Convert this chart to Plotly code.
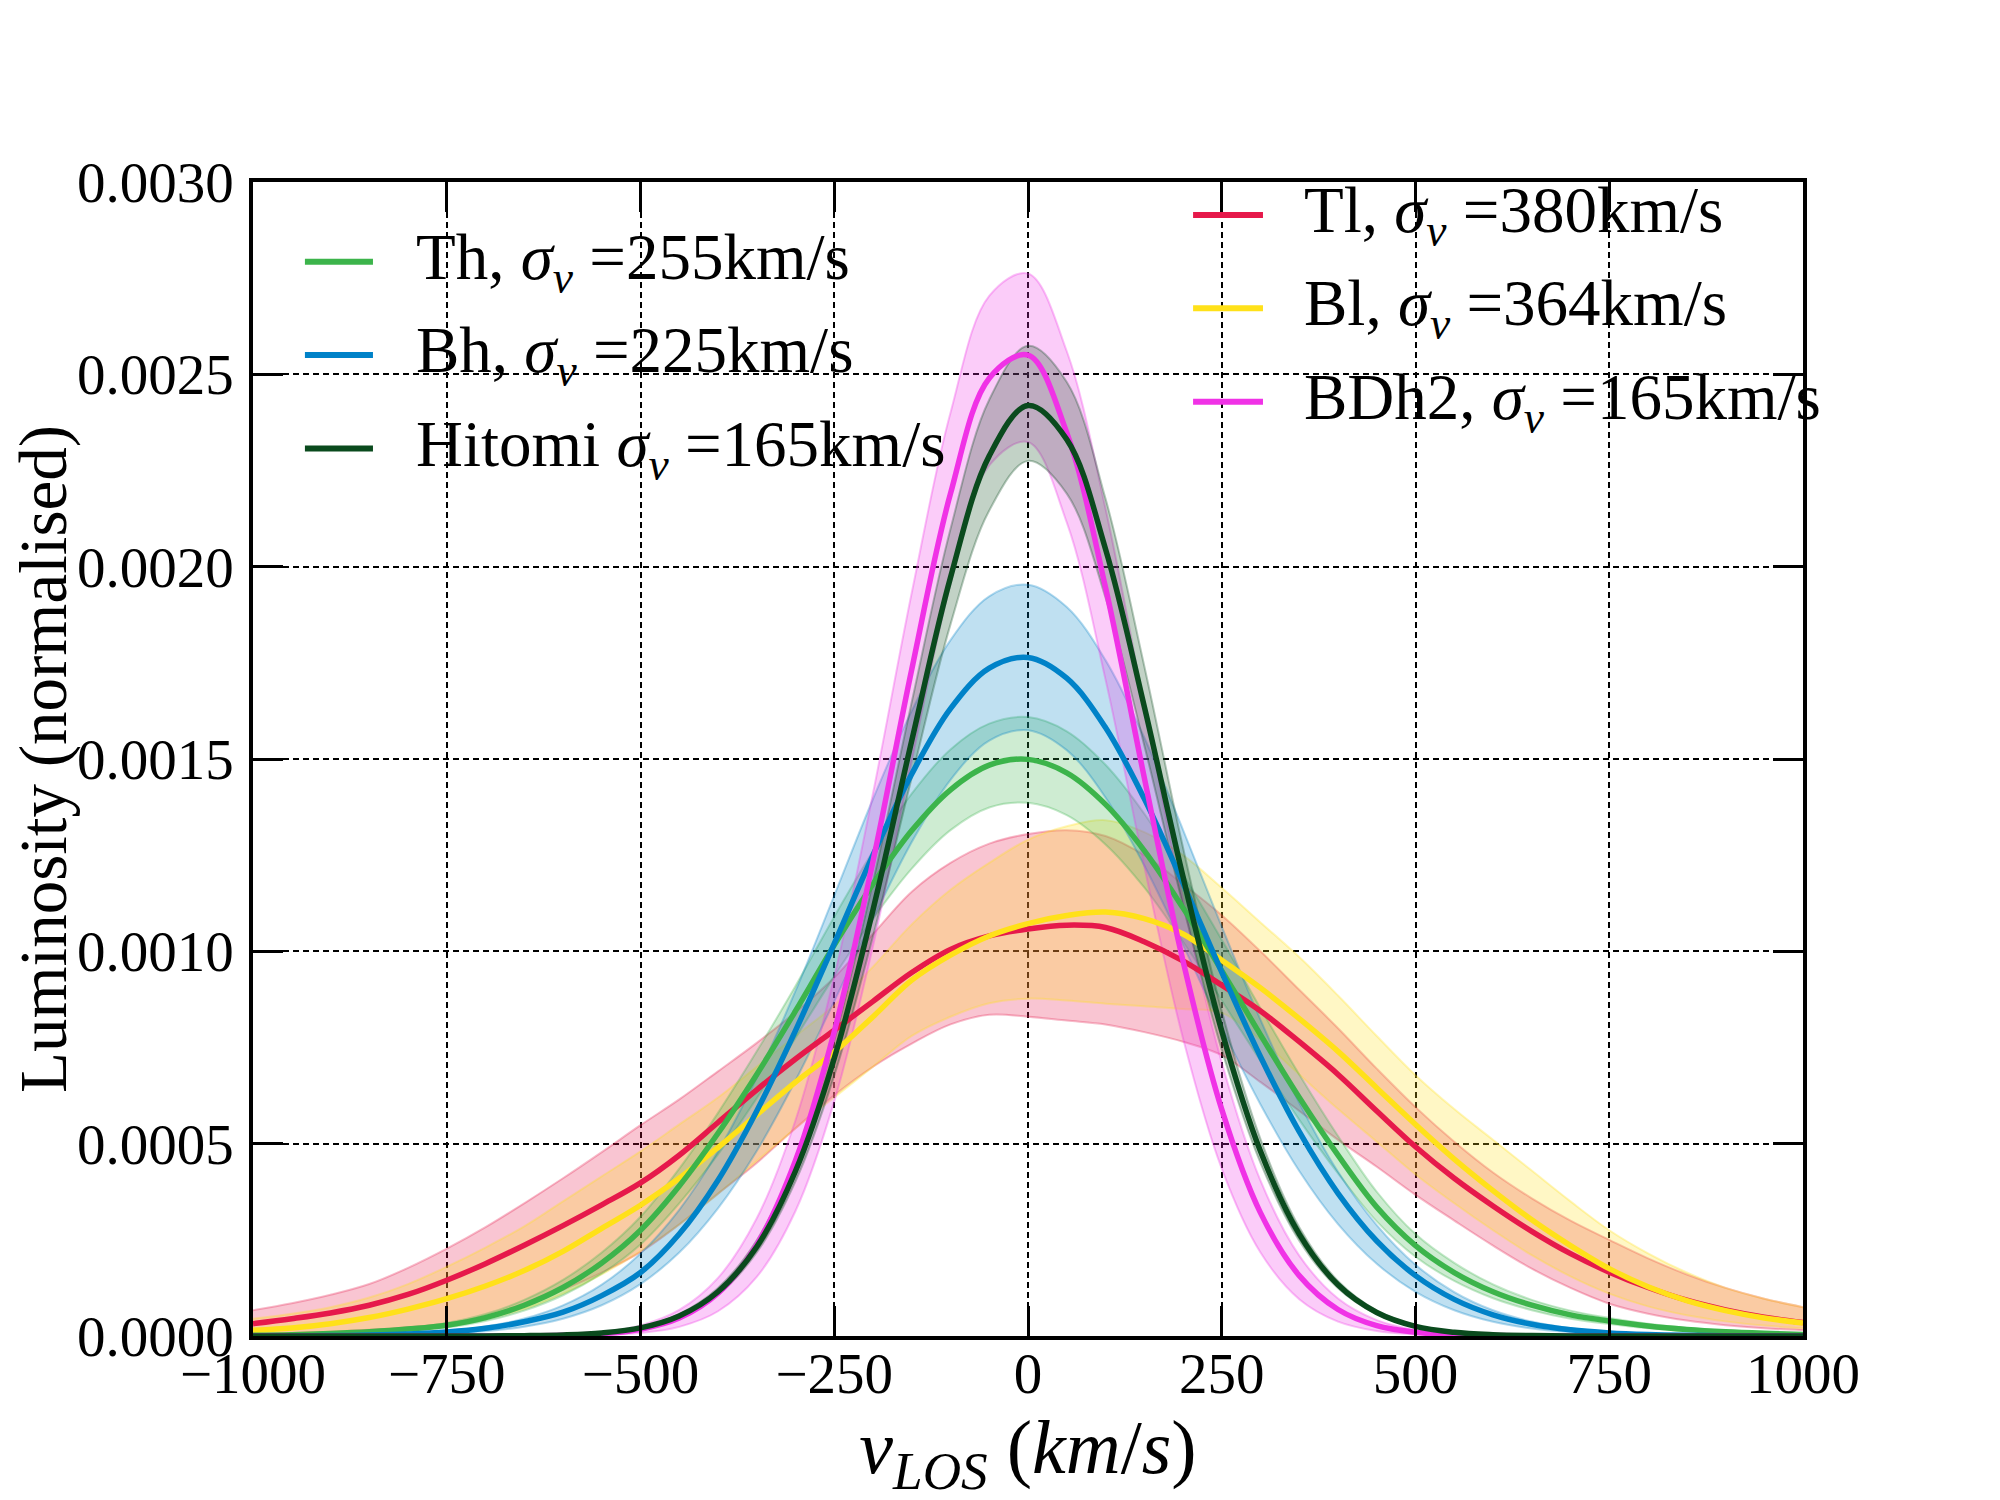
import plotly.graph_objects as go

# ---------------- data (luminosity values in units of 1e-3) ----------------
VELOCITY = [-1000, -950, -900, -850, -800, -750, -700, -650, -600, -550, -500,
            -450, -400, -350, -300, -250, -200, -150, -100, -50, 0,
            50, 100, 150, 200, 250, 300, 350, 400, 450, 500,
            550, 600, 650, 700, 750, 800, 850, 900, 950, 1000]

TH_MEAN = [0.002, 0.0035, 0.0065, 0.011, 0.018, 0.028, 0.048, 0.080, 0.126, 0.19, 0.275,
           0.39, 0.527, 0.68, 0.845, 1.016, 1.175, 1.314, 1.42, 1.484, 1.499,
           1.464, 1.382, 1.262, 1.113, 0.95, 0.783, 0.62, 0.47, 0.335, 0.235,
           0.165, 0.115, 0.08, 0.055, 0.039, 0.026, 0.017, 0.011, 0.007, 0.004]
TH_HIGH = [0.003, 0.0045, 0.008, 0.0135, 0.022, 0.034, 0.057, 0.094, 0.146, 0.217, 0.31,
           0.435, 0.58, 0.74, 0.91, 1.09, 1.26, 1.41, 1.525, 1.592, 1.609,
           1.572, 1.485, 1.358, 1.2, 1.03, 0.852, 0.68, 0.52, 0.375, 0.265,
           0.19, 0.134, 0.094, 0.066, 0.047, 0.032, 0.021, 0.014, 0.009, 0.005]
TH_LOW = [0.0013, 0.0025, 0.005, 0.0085, 0.014, 0.022, 0.039, 0.066, 0.106, 0.162, 0.238,
          0.345, 0.472, 0.618, 0.775, 0.935, 1.085, 1.215, 1.315, 1.374, 1.386,
          1.354, 1.278, 1.166, 1.025, 0.872, 0.715, 0.562, 0.423, 0.298, 0.206,
          0.143, 0.098, 0.067, 0.045, 0.031, 0.02, 0.013, 0.008, 0.005, 0.003]

BH_MEAN = [0.0002, 0.0004, 0.001, 0.0023, 0.0049, 0.0101, 0.0199, 0.0371, 0.062, 0.105, 0.165,
           0.265, 0.405, 0.585, 0.794, 1.02, 1.25, 1.461, 1.631, 1.736, 1.764,
           1.710, 1.582, 1.397, 1.177, 0.946, 0.726, 0.531, 0.371, 0.247, 0.157,
           0.0953, 0.0552, 0.0305, 0.0161, 0.0081, 0.0039, 0.0018, 0.0008, 0.0003, 0.0001]
BH_HIGH = [0.0002, 0.0006, 0.0014, 0.003, 0.0064, 0.0128, 0.0246, 0.0453, 0.0797, 0.1336, 0.2143,
           0.328, 0.48, 0.672, 0.897, 1.145, 1.396, 1.625, 1.809, 1.923, 1.953,
           1.895, 1.757, 1.556, 1.316, 1.064, 0.822, 0.606, 0.427, 0.288, 0.185,
           0.114, 0.0668, 0.0375, 0.0201, 0.0103, 0.005, 0.0024, 0.001, 0.0004, 0.0002]
BH_LOW = [0.0001, 0.0001, 0.0005, 0.0012, 0.0027, 0.0059, 0.0122, 0.0241, 0.045, 0.080, 0.135,
          0.217, 0.332, 0.481, 0.664, 0.870, 1.084, 1.284, 1.446, 1.548, 1.575,
          1.523, 1.40, 1.223, 1.016, 0.802, 0.602, 0.429, 0.291, 0.1877, 0.1149,
          0.067, 0.037, 0.0195, 0.0097, 0.0046, 0.0021, 0.0009, 0.0004, 0.0001, 0.0001]

HIT_MEAN = [0, 0, 0, 0, 0, 0, 0.0001, 0.0008, 0.0027, 0.0079, 0.021,
            0.052, 0.115, 0.232, 0.429, 0.722, 1.108, 1.548, 1.972, 2.288, 2.419,
            2.331, 2.046, 1.637, 1.194, 0.793, 0.48, 0.265, 0.133, 0.061, 0.025,
            0.0096, 0.0034, 0.0011, 0.0003, 0, 0, 0, 0, 0, 0]
HIT_HIGH = [0, 0, 0, 0, 0, 0, 0.0001, 0.001, 0.003, 0.0088, 0.0235,
            0.057, 0.125, 0.249, 0.458, 0.77, 1.18, 1.648, 2.098, 2.434, 2.574,
            2.48, 2.177, 1.742, 1.27, 0.845, 0.512, 0.283, 0.143, 0.066, 0.028,
            0.011, 0.004, 0.0013, 0.0004, 0, 0, 0, 0, 0, 0]
HIT_LOW = [0, 0, 0, 0, 0, 0, 0, 0.0007, 0.0024, 0.0072, 0.019,
           0.048, 0.107, 0.217, 0.402, 0.677, 1.039, 1.452, 1.85, 2.146, 2.275,
           2.19, 1.92, 1.536, 1.12, 0.744, 0.45, 0.248, 0.124, 0.057, 0.023,
           0.0088, 0.003, 0.001, 0.0002, 0, 0, 0, 0, 0, 0]

TL_MEAN = [0.032, 0.045, 0.060, 0.080, 0.108, 0.145, 0.188, 0.236, 0.287, 0.341, 0.398,
           0.47, 0.555, 0.64, 0.72, 0.795, 0.87, 0.945, 1.005, 1.04, 1.058,
           1.068, 1.062, 1.025, 0.975, 0.912, 0.845, 0.765, 0.68, 0.585, 0.492,
           0.41, 0.338, 0.272, 0.214, 0.166, 0.126, 0.093, 0.068, 0.049, 0.035]
TL_HIGH = [0.067, 0.085, 0.107, 0.135, 0.177, 0.227, 0.283, 0.345, 0.41, 0.478, 0.548,
           0.615, 0.688, 0.762, 0.842, 0.932, 1.045, 1.155, 1.23, 1.28, 1.305,
           1.315, 1.3, 1.25, 1.175, 1.094, 1.0, 0.9, 0.8, 0.695, 0.595,
           0.505, 0.425, 0.358, 0.3, 0.25, 0.202, 0.16, 0.125, 0.097, 0.075]
TL_LOW = [0.005, 0.008, 0.011, 0.016, 0.023, 0.032, 0.05, 0.08, 0.12, 0.165, 0.218,
          0.29, 0.37, 0.45, 0.54, 0.626, 0.7, 0.76, 0.81, 0.835, 0.83,
          0.82, 0.81, 0.79, 0.765, 0.73, 0.66, 0.585, 0.51, 0.44, 0.367,
          0.3, 0.235, 0.175, 0.125, 0.084, 0.058, 0.04, 0.028, 0.02, 0.015]

BL_MEAN = [0.015, 0.021, 0.032, 0.048, 0.07, 0.097, 0.13, 0.17, 0.22, 0.28, 0.340,
           0.41, 0.49, 0.575, 0.66, 0.738, 0.83, 0.925, 0.99, 1.04, 1.072,
           1.093, 1.102, 1.085, 1.045, 0.977, 0.905, 0.825, 0.74, 0.645, 0.55,
           0.46, 0.378, 0.302, 0.235, 0.175, 0.128, 0.092, 0.066, 0.047, 0.034]
BL_HIGH = [0.045, 0.058, 0.075, 0.1, 0.135, 0.18, 0.23, 0.285, 0.35, 0.415, 0.48,
           0.55, 0.62, 0.7, 0.78, 0.86, 0.96, 1.07, 1.16, 1.23, 1.29,
           1.325, 1.341, 1.31, 1.25, 1.165, 1.075, 0.985, 0.885, 0.78, 0.678,
           0.59, 0.51, 0.43, 0.35, 0.275, 0.215, 0.165, 0.125, 0.097, 0.075]
BL_LOW = [0.004, 0.006, 0.009, 0.014, 0.02, 0.03, 0.045, 0.07, 0.11, 0.16, 0.22,
          0.29, 0.37, 0.455, 0.54, 0.62, 0.7, 0.78, 0.83, 0.865, 0.877,
          0.872, 0.864, 0.857, 0.85, 0.84, 0.77, 0.68, 0.59, 0.505, 0.42,
          0.345, 0.275, 0.21, 0.155, 0.11, 0.077, 0.054, 0.038, 0.027, 0.02]

BDH2_MEAN = [0, 0, 0, 0, 0, 0, 0, 0.0004, 0.0018, 0.006, 0.0176,
             0.0465, 0.111, 0.237, 0.456, 0.791, 1.234, 1.733, 2.19, 2.49, 2.55,
             2.348, 1.946, 1.452, 0.975, 0.589, 0.32, 0.157, 0.069, 0.027, 0.0097,
             0.003, 0.001, 0.0003, 0, 0, 0, 0, 0, 0, 0]
BDH2_HIGH = [0, 0, 0, 0, 0, 0, 0, 0.001, 0.0034, 0.0101, 0.0275,
             0.0677, 0.151, 0.306, 0.561, 0.934, 1.411, 1.932, 2.40, 2.704, 2.762,
             2.56, 2.151, 1.64, 1.134, 0.711, 0.404, 0.209, 0.0975, 0.0414, 0.0159,
             0.0055, 0.0018, 0.0005, 0, 0, 0, 0, 0, 0, 0]
BDH2_LOW = [0, 0, 0, 0, 0, 0, 0, 0, 0.0003, 0.0023, 0.0078,
            0.0238, 0.0643, 0.1535, 0.325, 0.61, 1.014, 1.495, 1.954, 2.263, 2.324,
            2.115, 1.707, 1.221, 0.774, 0.435, 0.217, 0.0957, 0.0375, 0.013, 0.004,
            0.0011, 0.0003, 0, 0, 0, 0, 0, 0, 0, 0]

LEFT_LABELS = ["Th, <i>σ</i><sub><i>v</i></sub> =255km/s",
               "Bh, <i>σ</i><sub><i>v</i></sub> =225km/s",
               "Hitomi <i>σ</i><sub><i>v</i></sub> =165km/s"]
RIGHT_LABELS = ["Tl, <i>σ</i><sub><i>v</i></sub> =380km/s",
                "Bl, <i>σ</i><sub><i>v</i></sub> =364km/s",
                "BDh2, <i>σ</i><sub><i>v</i></sub> =165km/s"]

X_TICKS = [-1000, -750, -500, -250, 0, 250, 500, 750, 1000]
X_TICKTEXT = ["−1000", "−750", "−500", "−250", "0", "250", "500", "750", "1000"]
Y_TICKS = [0, 0.0005, 0.001, 0.0015, 0.002, 0.0025, 0.003]
Y_TICKTEXT = ["0.0000", "0.0005", "0.0010", "0.0015", "0.0020", "0.0025", "0.0030"]

C_TH = "#3cb44b"
C_BH = "#0082c8"
C_HIT = "#0a4a1d"
C_TL = "#e6194b"
C_BL = "#ffe119"
C_BDH2 = "#f032e6"

FONT = "Liberation Serif, Times New Roman, serif"


def rgba(hex_color, a):
    h = hex_color.lstrip("#")
    r, g, b = int(h[0:2], 16), int(h[2:4], 16), int(h[4:6], 16)
    return f"rgba({r},{g},{b},{a})"


def scale(values):
    return [v * 1e-3 for v in values]


# draw order (bottom to top)
SERIES = [
    ("Tl", C_TL, TL_MEAN, TL_LOW, TL_HIGH),
    ("Bl", C_BL, BL_MEAN, BL_LOW, BL_HIGH),
    ("Th", C_TH, TH_MEAN, TH_LOW, TH_HIGH),
    ("Bh", C_BH, BH_MEAN, BH_LOW, BH_HIGH),
    ("BDh2", C_BDH2, BDH2_MEAN, BDH2_LOW, BDH2_HIGH),
    ("Hitomi", C_HIT, HIT_MEAN, HIT_LOW, HIT_HIGH),
]

fig = go.Figure()

# uncertainty bands
for name, col, mean, low, high in SERIES:
    fig.add_trace(go.Scatter(
        x=VELOCITY, y=scale(low), mode="lines",
        line=dict(color=rgba(col, 0.3), width=2, shape="spline", smoothing=1.0),
        showlegend=False, hoverinfo="skip"))
    fig.add_trace(go.Scatter(
        x=VELOCITY, y=scale(high), mode="lines", fill="tonexty",
        fillcolor=rgba(col, 0.25),
        line=dict(color=rgba(col, 0.3), width=2, shape="spline", smoothing=1.0),
        showlegend=False, hoverinfo="skip"))

# mean curves
for name, col, mean, low, high in SERIES:
    fig.add_trace(go.Scatter(
        x=VELOCITY, y=scale(mean), mode="lines", name=name,
        line=dict(color=col, width=5.5, shape="spline", smoothing=1.0),
        showlegend=False))

# custom legends (line sample + label)
left_items = [(C_TH, LEFT_LABELS[0]), (C_BH, LEFT_LABELS[1]), (C_HIT, LEFT_LABELS[2])]
left_y = [0.931, 0.850, 0.769]
right_items = [(C_TL, RIGHT_LABELS[0]), (C_BL, RIGHT_LABELS[1]), (C_BDH2, RIGHT_LABELS[2])]
right_y = [0.9715, 0.8905, 0.8095]

shapes = []
annotations = []
for (col, txt), yy in zip(left_items, left_y):
    shapes.append(dict(type="line", xref="paper", yref="paper",
                       x0=0.0335, x1=0.0774, y0=yy, y1=yy,
                       line=dict(color=col, width=6)))
    annotations.append(dict(xref="paper", yref="paper", x=0.104, y=yy,
                            text=txt, showarrow=False, xanchor="left", yanchor="middle",
                            font=dict(family=FONT, size=65, color="black")))
for (col, txt), yy in zip(right_items, right_y):
    shapes.append(dict(type="line", xref="paper", yref="paper",
                       x0=0.6065, x1=0.6516, y0=yy, y1=yy,
                       line=dict(color=col, width=6)))
    annotations.append(dict(xref="paper", yref="paper", x=0.677, y=yy,
                            text=txt, showarrow=False, xanchor="left", yanchor="middle",
                            font=dict(family=FONT, size=65, color="black")))

# y-axis title placed explicitly
annotations.append(dict(xref="paper", yref="paper", x=-0.1355, y=0.5,
                        text="Luminosity (normalised)", textangle=-90,
                        showarrow=False, xanchor="center", yanchor="middle",
                        font=dict(family=FONT, size=67, color="black")))

axis_common = dict(
    showline=True, linecolor="black", linewidth=3.5, mirror="allticks",
    ticks="inside", ticklen=30, tickwidth=3, tickcolor="black",
    showgrid=True, gridcolor="black", gridwidth=1.5, griddash="6px,4px",
    zeroline=False,
    tickfont=dict(family=FONT, size=57, color="black"),
)

fig.update_layout(
    width=2000, height=1500,
    margin=dict(l=245, r=205, t=174, b=172),
    paper_bgcolor="white", plot_bgcolor="white",
    font=dict(family=FONT, color="black"),
    shapes=shapes, annotations=annotations,
    showlegend=False,
    xaxis=dict(range=[-1000, 1000], tickvals=X_TICKS, ticktext=X_TICKTEXT,
               ticklabelstandoff=-15,
               title=dict(text="<i>v</i><sub><i>LOS</i></sub> (<i>km</i>/<i>s</i>)",
                          font=dict(family=FONT, size=76, color="black"), standoff=0),
               automargin=False, **axis_common),
    yaxis=dict(range=[0, 0.003], tickvals=Y_TICKS, ticktext=Y_TICKTEXT,
               ticklabelstandoff=4,
               automargin=False, **axis_common),
)

fig.write_html("out.html")
